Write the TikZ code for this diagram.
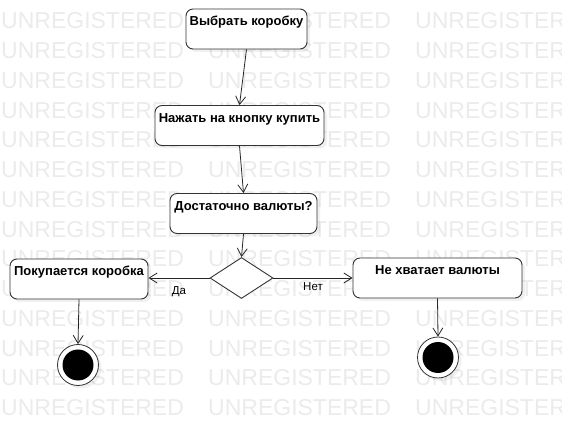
\documentclass[tikz,border=0pt]{standalone}
\usepackage{fontspec}
\setmainfont{Liberation Sans}
\usetikzlibrary{shapes.geometric,arrows.meta,shadows}

\begin{document}
\begin{tikzpicture}[x=1pt,y=-1pt,
		act/.style={draw=black!80, line width=0.9pt, fill=white, rounded corners=7pt,
			font=\bfseries\fontsize{13}{15}\selectfont, inner xsep=0pt, inner ysep=4pt,
			text height=13pt, text depth=19pt, minimum height=40pt,
			drop shadow={opacity=0.12, shadow xshift=3pt, shadow yshift=-3pt}},
		choice/.style={diamond, draw=black!80, line width=0.9pt, fill=white, inner sep=0pt,
			minimum width=63pt, minimum height=41pt},
		final/.style={circle, draw=black!80, line width=0.8pt, fill=white, inner sep=0pt, minimum size=41pt,
			path picture={\fill[black] (path picture bounding box.center) circle (15.5pt);},
			drop shadow={opacity=0.12, shadow xshift=3pt, shadow yshift=-3pt}},
		flow/.style={draw=black!85, line width=0.8pt, -{Straight Barb[length=8pt,width=10pt]}},
		lbl/.style={font=\fontsize{11.5}{13}\selectfont, inner sep=0pt},
		wm/.style={font=\fontsize{23}{25}\selectfont, text=black!8, anchor=west, inner sep=0pt}]
	\useasboundingbox (0,0) rectangle (562,427);
	\begin{scope}
		\clip (0,0) rectangle (562,427);
		\foreach \r in {0,...,13}
			\foreach \c in {0,1,2}
				\node[wm] (wm-\r-\c) at (1+207*\c, 21+29.75*\r) {UNREGISTERED};
	\end{scope}

	\node[act, minimum width=121pt] (pick) at (246.5, 29) {Выбрать коробку};
	\node[act, minimum width=169pt] (press) at (239.5, 125.5) {Нажать на кнопку купить};
	\node[act, minimum width=147pt] (enough) at (243.5, 213.5) {Достаточно валюты?};
	\node[choice] (dec) at (241.5, 278) {};
	\node[act, minimum width=138pt] (buy) at (79, 279) {Покупается коробка};
	\node[act, minimum width=169pt] (lack) at (437.5, 278) {Не хватает валюты};
	\node[final] (end1) at (78, 365) {};
	\node[final] (end2) at (438, 357.5) {};

	\draw[flow] (pick.south) -- (press.north);
	\draw[flow] (press.south) -- (enough.north);
	\draw[flow] (enough.south) -- (dec.north);
	\draw[flow] (dec.west) -- node[lbl, below=8pt] (yes) {Да} (buy.east |- dec.west);
	\draw[flow] (dec.east) -- node[lbl, below=4pt] (no) {Нет} (lack.west);
	\draw[flow] (buy.south) -- (end1.north);
	\draw[flow] (lack.south) -- (end2.north);
\end{tikzpicture}
\end{document}
